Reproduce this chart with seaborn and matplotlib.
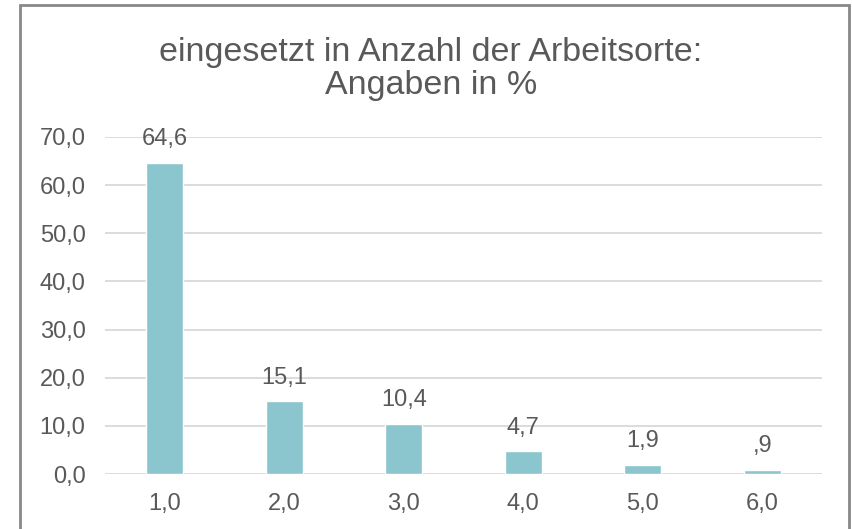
import matplotlib
matplotlib.use("Agg")
import matplotlib.pyplot as plt
import seaborn as sns
import pandas as pd
from matplotlib.patches import Rectangle

categories = ["1,0", "2,0", "3,0", "4,0", "5,0", "6,0"]
values = [64.6, 15.1, 10.4, 4.7, 1.9, 0.9]
yticks = [0, 10, 20, 30, 40, 50, 60, 70]
title = "eingesetzt in Anzahl der Arbeitsorte:\nAngaben in %"

sns.set_theme(style="white")
plt.rcParams['font.family'] = ['Liberation Sans', 'DejaVu Sans']

TXT = "#595959"
df = pd.DataFrame({"cat": categories, "val": values})

fig = plt.figure(figsize=(8.52, 5.29), dpi=100)
ax = fig.add_axes([105/852, 1-474/529, (822-105)/852, (474-137)/529])
sns.barplot(data=df, x="cat", y="val", color="#8BC6CE", saturation=1,
            width=0.31, ax=ax, zorder=3)
ax.set_ylim(0, 70)
ax.set_xlim(-0.5, len(categories)-0.5)
ax.set_yticks(yticks)
ax.set_yticklabels([f"{v:.1f}".replace(".", ",") for v in yticks])
ax.set_xlabel("")
ax.set_ylabel("")
for y in yticks:
    ax.axhline(y, color="#D9D9D9", lw=1.3, zorder=1)
for s in ax.spines.values():
    s.set_visible(False)
ax.tick_params(axis="both", length=0, labelsize=17, colors=TXT)
ax.tick_params(axis="y", pad=14)
ax.tick_params(axis="x", pad=14)

def fmt(v):
    s = f"{v:.1f}".replace(".", ",")
    if s.startswith("0,"):
        s = s[1:]
    return s

for i, v in enumerate(values):
    ax.annotate(fmt(v), (i, v), xytext=(0, 9), textcoords="offset points",
                ha="center", va="bottom", fontsize=17, color=TXT)

fig.text(431/852, 1-69/529, title, ha="center", va="center", fontsize=24.5,
         color=TXT, linespacing=1.1)

fig.patches.append(Rectangle((19.5/852, -0.05), (849-19.5)/852, 1.05 - 4.5/529,
                             transform=fig.transFigure, fill=False,
                             edgecolor="#888888", lw=2))

fig.savefig("out.png", dpi=100, facecolor="white")
